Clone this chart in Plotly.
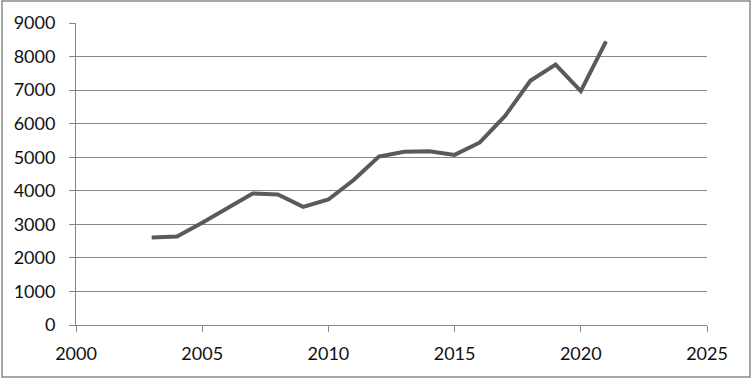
import plotly.graph_objects as go

years = [2003, 2004, 2005, 2006, 2007, 2008, 2009, 2010, 2011, 2012,
         2013, 2014, 2015, 2016, 2017, 2018, 2019, 2020, 2021]
values = [2610, 2640, 3050, 3490, 3920, 3890, 3520, 3740, 4320, 5020,
          5160, 5180, 5070, 5440, 6230, 7280, 7760, 6970, 8450]

x_ticks = [2000, 2005, 2010, 2015, 2020, 2025]
y_ticks = [0, 1000, 2000, 3000, 4000, 5000, 6000, 7000, 8000, 9000]

W, H = 752, 378
L, R, T, B = 76, 45, 23, 53
pw, ph = W - L - R, H - T - B

fig = go.Figure()
fig.add_trace(go.Scatter(
    x=years, y=values, mode="lines",
    line=dict(color="#5a5a5a", width=4),
    showlegend=False, hoverinfo="x+y",
))

font = dict(family="Lato, 'Open Sans', sans-serif", size=18, color="#111111")

fig.update_layout(
    width=W, height=H,
    margin=dict(l=L, r=R, t=T, b=B, pad=0),
    paper_bgcolor="white", plot_bgcolor="white",
    font=font,
    xaxis=dict(
        range=[2000, 2025], tickvals=x_ticks, ticktext=[str(v) for v in x_ticks],
        showgrid=False, zeroline=False,
        showline=True, linecolor="#868686", linewidth=1,
        ticks="outside", ticklen=6, tickcolor="#868686", tickwidth=1,
        tickfont=font, fixedrange=True, ticklabelstandoff=6,
    ),
    yaxis=dict(
        range=[0, 9000], tickvals=y_ticks, ticktext=[str(v) for v in y_ticks],
        showgrid=True, gridcolor="#868686", gridwidth=1, zeroline=False,
        showline=True, linecolor="#868686", linewidth=1,
        ticks="outside", ticklen=6, tickcolor="#868686", tickwidth=1,
        tickfont=font, fixedrange=True, ticklabelstandoff=10,
    ),
)

# outer chart border (in paper coordinates)
fig.add_shape(
    type="rect", xref="paper", yref="paper",
    x0=(2 - L) / pw, x1=(750 - L) / pw,
    y0=-(377 - (H - B)) / ph, y1=1 + (T - 1) / ph,
    line=dict(color="#8a8a8a", width=1.5), fillcolor="rgba(0,0,0,0)",
    layer="below",
)

fig.write_html(
    "out.html",
    config={"displayModeBar": False},
    post_script="document.body.style.margin='0';document.body.style.overflow='hidden';",
)
